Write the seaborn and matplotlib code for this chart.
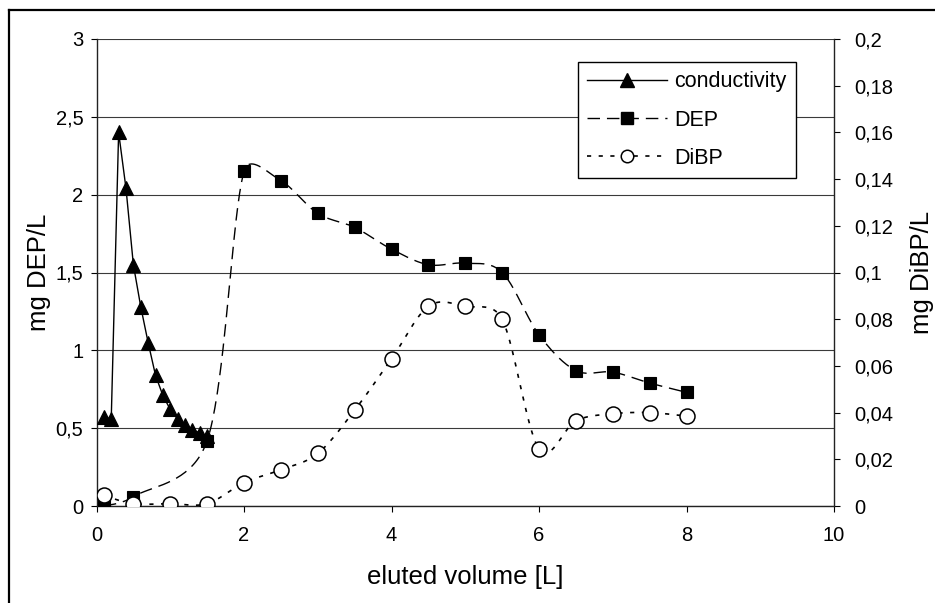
import numpy as np
import matplotlib
matplotlib.use("Agg")
import matplotlib.pyplot as plt
from matplotlib.lines import Line2D
from matplotlib.ticker import FuncFormatter, MultipleLocator
import seaborn as sns

# --- data -----------------------------------------------------------------
cond_x = [0.1, 0.2, 0.3, 0.4, 0.5, 0.6, 0.7, 0.8, 0.9, 1.0, 1.1, 1.2, 1.3, 1.4, 1.5]
cond_y = [0.57, 0.56, 2.40, 2.04, 1.55, 1.28, 1.05, 0.84, 0.71, 0.62, 0.56, 0.52, 0.49, 0.47, 0.45]

dep_x = [0.1, 0.5, 1.5, 2.0, 2.5, 3.0, 3.5, 4.0, 4.5, 5.0, 5.5, 6.0, 6.5, 7.0, 7.5, 8.0]
dep_y = [0.00, 0.06, 0.42, 2.15, 2.09, 1.88, 1.79, 1.65, 1.55, 1.56, 1.50, 1.10, 0.87, 0.86, 0.79, 0.73]

dibp_x = [0.1, 0.5, 1.0, 1.5, 2.0, 2.5, 3.0, 3.5, 4.0, 4.5, 5.0, 5.5, 6.0, 6.5, 7.0, 7.5, 8.0]
dibp_y = [0.0045, 0.001, 0.001, 0.001, 0.0100, 0.0155, 0.0225, 0.0410, 0.0630, 0.0855, 0.0855,
          0.0800, 0.0245, 0.0365, 0.0395, 0.0400, 0.0385]

series_names = ["conductivity", "DEP", "DiBP"]
x_label = "eluted volume [L]"
y_label_left = "mg DEP/L"
y_label_right = "mg DiBP/L"


def smooth(axis, x, y, n=40, cap=0.5):
    """Smoothed line through every point: cubic Bezier segments built in screen
    space, with tangent handles limited to a fraction of the segment length."""
    tr = axis.transData
    pts = tr.transform(np.column_stack([x, y]).astype(float))
    out = [pts[0]]
    t = np.linspace(0, 1, n)[1:, None]
    for i in range(len(pts) - 1):
        p0 = pts[i - 1] if i > 0 else pts[i]
        p1, p2 = pts[i], pts[i + 1]
        p3 = pts[i + 2] if i + 2 < len(pts) else pts[i + 1]
        seg_len = np.hypot(*(p2 - p1))
        v1 = (p2 - p0) / 6.0
        v2 = (p3 - p1) / 6.0
        for v in (v1, v2):
            L = np.hypot(*v)
            if L > cap * seg_len and L > 0:
                v *= cap * seg_len / L
        c1 = p1 + v1
        c2 = p2 - v2
        seg = ((1 - t) ** 3) * p1 + 3 * ((1 - t) ** 2) * t * c1 + 3 * (1 - t) * t ** 2 * c2 + t ** 3 * p2
        out.extend(seg)
    out = tr.inverted().transform(np.array(out))
    return out[:, 0], out[:, 1]


plt.rcParams["font.family"] = ["Liberation Sans", "DejaVu Sans"]
plt.rcParams["axes.linewidth"] = 1.0

W, H = 935, 603
fig = plt.figure(figsize=(W / 100, H / 100), dpi=100, facecolor="white")
ax = fig.add_axes([96.5 / W, 1 - 506 / H, (834 - 96.5) / W, (506 - 39) / H])
ax2 = ax.twinx()

ax.set_xlim(0, 10)
ax.set_ylim(0, 3)
ax2.set_xlim(0, 10)
ax2.set_ylim(0, 0.2)

lw = 1.0
dep_dash = (0, (9, 5))
dibp_dash = (0, (2.5, 4.5))

# conductivity (left axis)
sns.lineplot(x=cond_x, y=cond_y, sort=False, estimator=None, ax=ax, color="black", lw=lw, zorder=3)
sns.lineplot(x=cond_x, y=cond_y, sort=False, estimator=None, ax=ax, color="black",
             linestyle="", marker="^", markersize=9.5, markerfacecolor="black",
             markeredgecolor="black", markeredgewidth=0.8, zorder=4)

# DEP (left axis)
dx, dy = smooth(ax, dep_x, dep_y)
sns.lineplot(x=dx, y=dy, sort=False, estimator=None, ax=ax, color="black", lw=lw,
             linestyle=dep_dash, zorder=3)
sns.lineplot(x=dep_x, y=dep_y, sort=False, estimator=None, ax=ax, color="black",
             linestyle="", marker="s", markersize=8.5, markerfacecolor="black",
             markeredgecolor="black", markeredgewidth=0.8, zorder=5)

# DiBP (right axis)
bx, by = smooth(ax2, dibp_x, dibp_y)
sns.lineplot(x=bx, y=by, sort=False, estimator=None, ax=ax2, color="black", lw=1.2,
             linestyle=dibp_dash, zorder=3)
sns.lineplot(x=dibp_x, y=dibp_y, sort=False, estimator=None, ax=ax2, color="black",
             linestyle="", marker="o", markersize=10.8, markerfacecolor="white",
             markeredgecolor="black", markeredgewidth=1.1, zorder=5)

# axes, ticks and grid
comma = FuncFormatter(lambda v, p: ("%g" % round(v, 6)).replace(".", ","))

ax.set_xlim(0, 10)
ax.set_ylim(0, 3)
ax2.set_ylim(0, 0.2)
ax.xaxis.set_major_locator(MultipleLocator(2))
ax.yaxis.set_major_locator(MultipleLocator(0.5))
ax2.yaxis.set_major_locator(MultipleLocator(0.02))
ax.xaxis.set_major_formatter(comma)
ax.yaxis.set_major_formatter(comma)
ax2.yaxis.set_major_formatter(comma)

ax.yaxis.grid(True, color="#3a3a3a", lw=0.8)
ax.xaxis.grid(False)
ax2.grid(False)
ax.set_axisbelow(True)

for a in (ax, ax2):
    a.spines["top"].set_visible(False)
ax.spines["right"].set_visible(False)
ax2.spines["left"].set_visible(False)
ax2.spines["bottom"].set_visible(False)
for s in ("left", "bottom"):
    ax.spines[s].set_color("#222222")
ax2.spines["right"].set_color("#222222")

ax.tick_params(axis="x", direction="out", length=4.5, width=0.8, labelsize=14.5, pad=10, colors="black")
ax.tick_params(axis="y", direction="out", length=4.5, width=0.8, labelsize=14.5, pad=5, colors="black")
ax2.tick_params(axis="y", direction="out", length=4.5, width=0.8, labelsize=14.5, pad=10, colors="black")

ax.set_xlabel(x_label, fontsize=18.5)
ax.set_ylabel(y_label_left, fontsize=18.5)
ax2.set_ylabel(y_label_right, fontsize=18.5)
ax.xaxis.set_label_coords(0.5, -0.127)
ax.yaxis.set_label_coords(-0.062, 0.5)
ax2.yaxis.set_label_coords(1.103, 0.5)

# legend
handles = [
    Line2D([], [], color="black", lw=lw, linestyle="-", marker="^", markersize=9.5,
           markerfacecolor="black", markeredgecolor="black"),
    Line2D([], [], color="black", lw=lw, linestyle=dep_dash, marker="s", markersize=8.5,
           markerfacecolor="black", markeredgecolor="black"),
    Line2D([], [], color="black", lw=1.2, linestyle=dibp_dash, marker="o", markersize=9,
           markerfacecolor="white", markeredgecolor="black", markeredgewidth=1.1),
]
leg = ax2.legend(handles, series_names, loc="upper left",
                 bbox_to_anchor=(578 / W, 1 - 62 / H), bbox_transform=fig.transFigure,
                 fontsize=15.5, handlelength=3.7, handletextpad=0.33, labelspacing=0.8,
                 borderpad=0.44, borderaxespad=0, frameon=True, fancybox=False,
                 framealpha=1, edgecolor="black")
leg.get_frame().set_linewidth(1.0)

# outer frame around the chart area
fig.add_artist(Line2D([8.7 / W, 8.7 / W], [0, 1 - 10 / H], transform=fig.transFigure,
                      color="black", lw=1.6))
fig.add_artist(Line2D([8.7 / W, 1.0], [1 - 10 / H, 1 - 10 / H], transform=fig.transFigure,
                      color="black", lw=1.6))

fig.savefig("out.png", dpi=100, facecolor="white")
